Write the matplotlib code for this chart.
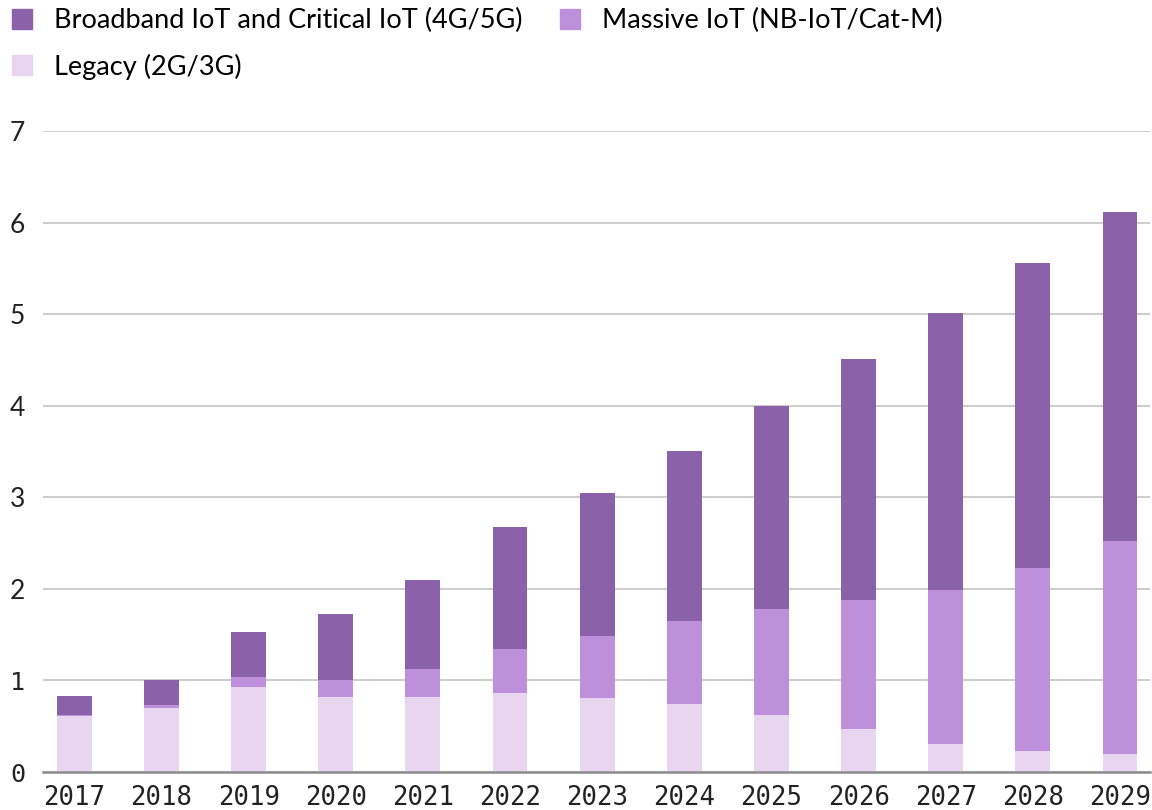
"""Stacked bar chart of cellular IoT connections by technology, 2017-2029."""
import matplotlib.pyplot as plt
import numpy as np
from matplotlib.patches import Patch

years = ["2017", "2018", "2019", "2020", "2021", "2022", "2023",
         "2024", "2025", "2026", "2027", "2028", "2029"]
legacy = [0.61, 0.70, 0.93, 0.82, 0.82, 0.86, 0.81, 0.74, 0.62, 0.47, 0.31, 0.23, 0.20]
massive_top = [0.62, 0.73, 1.04, 1.00, 1.12, 1.34, 1.49, 1.65, 1.78, 1.88, 1.99, 2.23, 2.52]
total = [0.83, 1.00, 1.53, 1.73, 2.10, 2.68, 3.05, 3.51, 4.00, 4.51, 5.01, 5.56, 6.12]
y_ticks = [0, 1, 2, 3, 4, 5, 6, 7]

series_names = ["Broadband IoT and Critical IoT (4G/5G)",
                "Massive IoT (NB-IoT/Cat-M)",
                "Legacy (2G/3G)"]
colors = ["#8b62a9", "#be8fda", "#e8d6f1"]

legacy = np.array(legacy)
massive = np.array(massive_top) - legacy
broadband = np.array(total) - np.array(massive_top)

plt.rcParams["font.family"] = ["Lato", "DejaVu Sans"]

fig = plt.figure(figsize=(11.52, 8.1), dpi=100)
ax = fig.add_axes([0.0373, 0.0469, 0.9607, 0.7914])

x = np.arange(len(years))
w = 0.4
ax.bar(x, legacy, w, color=colors[2], zorder=3)
ax.bar(x, massive, w, bottom=legacy, color=colors[1], zorder=3)
ax.bar(x, broadband, w, bottom=legacy + massive, color=colors[0], zorder=3)

ax.set_xlim(-0.36, len(years) - 1 + 0.34)
ax.set_ylim(0, 7)
ax.set_yticks(y_ticks)
ax.set_xticks(x)
ax.set_xticklabels(years, fontfamily="DejaVu Sans Mono", fontsize=18.5, color="#222222")
ax.set_yticklabels([str(t) for t in y_ticks], fontsize=19, color="#222222")
for lbl in ax.get_yticklabels()[:2]:
    lbl.set_fontfamily("DejaVu Sans Mono")
    lbl.set_fontsize(18)
ax.tick_params(axis="both", length=0)
ax.tick_params(axis="y", pad=13)
ax.tick_params(axis="x", pad=9)

ax.grid(True, axis="y", color="#c4c4c4", linewidth=1.2, zorder=0)
for side in ["top", "right", "left"]:
    ax.spines[side].set_visible(False)
ax.spines["bottom"].set_color("#8c8c8c")
ax.spines["bottom"].set_linewidth(1.8)
ax.spines["bottom"].set_zorder(4)

handles = [Patch(color=c) for c in colors]
order = [0, 2, 1]
fig.legend([handles[i] for i in order], [series_names[i] for i in order],
           ncol=2, loc="upper left", bbox_to_anchor=(-0.004, 1.01),
           frameon=False, fontsize=19.5, handlelength=0.75, handleheight=0.75,
           handletextpad=0.8, columnspacing=1.4, labelspacing=0.75,
           borderaxespad=0.2)

fig.savefig("out.png", dpi=100)
plt.close(fig)
